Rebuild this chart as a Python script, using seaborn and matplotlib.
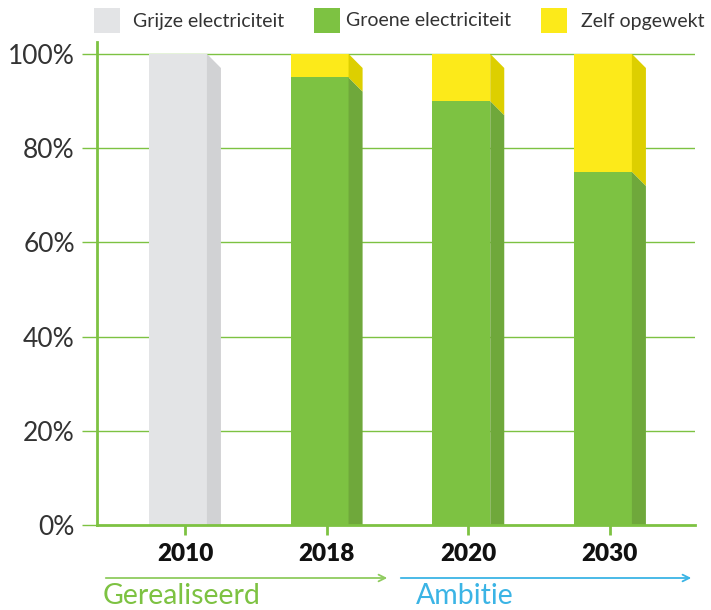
import matplotlib
matplotlib.use("Agg")
import matplotlib.pyplot as plt
import seaborn as sns
from matplotlib.patches import Rectangle, Polygon, FancyArrowPatch

years = ["2010", "2018", "2020", "2030"]
grijs = [100, 0, 0, 0]
groen = [0, 95, 90, 75]
zelf = [0, 5, 10, 25]
series_names = ["Grijze electriciteit", "Groene electriciteit", "Zelf opgewekt"]

front_cols = ["#E3E4E6", "#7DC242", "#FCEA1A"]
side_cols = ["#D1D2D4", "#6FA83B", "#DDCF00"]
line_green = "#7DC242"
blue = "#3BB4E5"

sns.set_theme(style="white")
plt.rcParams["font.family"] = ["Lato", "DejaVu Sans"]

W, H = 711, 610
fig = plt.figure(figsize=(W / 100, H / 100), dpi=100)
ax = fig.add_axes([0.1364, 0.139, 0.841, 0.792])

bar_w = 0.409
depth = 0.099
drop = 3.0

for y in [20, 40, 60, 80, 100]:
    ax.axhline(y, color=line_green, lw=1, zorder=0)

# stacked segments (bottom, top) per series
series = [grijs, groen, zelf]
segments = []
for j in range(len(years)):
    b = 0
    row = []
    for k, vals in enumerate(series):
        v = vals[j]
        if v > 0:
            row.append((k, b, b + v))
        b += v
    segments.append(row)

# front faces via seaborn: cumulative heights, tallest first
cum = [[g, g + n, g + n + z] for g, n, z in zip(grijs, groen, zelf)]
for k in [2, 1, 0]:
    heights = [c[k] if series[k][j] > 0 else 0 for j, c in enumerate(cum)]
    n_before = len(ax.patches)
    sns.barplot(x=years, y=heights, color=front_cols[k], width=bar_w,
                saturation=1, ax=ax, zorder=2)
    for p in ax.patches[n_before:]:
        p.set_x(p.get_x() - depth / 2)
        p.set_linewidth(0)

# side faces
for j, row in enumerate(segments):
    xr = j - depth / 2 + bar_w / 2
    for k, b, t in row:
        pts = [(xr, t), (xr + depth, t - drop), (xr + depth, max(b - drop, 0)), (xr, b)]
        ax.add_patch(Polygon(pts, closed=True, facecolor=side_cols[k], lw=0, zorder=2))

ax.set_xlim(-0.621, 3.6)
ax.set_ylim(0, 102.5)
ax.set_yticks([0, 20, 40, 60, 80, 100])
ax.set_yticklabels([f"{v}%" for v in [0, 20, 40, 60, 80, 100]],
                   fontsize=19, color="#333333")
ax.set_xticks(range(len(years)))
ax.set_xticklabels(years, fontsize=17.5, fontweight="heavy", color="#111111")
ax.tick_params(axis="y", direction="out", length=11, width=1, color=line_green, pad=5, left=True)
ax.tick_params(axis="x", direction="out", length=7, width=2, color=line_green, pad=6, bottom=True)
ax.set_xlabel("")
ax.set_ylabel("")

for s in ["top", "right"]:
    ax.spines[s].set_visible(False)
for s in ["left", "bottom"]:
    ax.spines[s].set_color(line_green)
    ax.spines[s].set_linewidth(2)

# legend row at the top
legend_box_x = [94, 314, 541]
legend_text_x = [133, 346, 581]
for bx, tx, c, name in zip(legend_box_x, legend_text_x, front_cols, series_names):
    fig.patches.append(Rectangle((bx / W, 1 - 33 / H), 26 / W, 25 / H,
                                 transform=fig.transFigure, facecolor=c, lw=0))
    fig.text(tx / W, 1 - 21 / H, name, fontsize=14, color="#333333",
             ha="left", va="center")

# timeline arrows and labels
fig.patches.append(FancyArrowPatch(
    (103 / W, 1 - 578 / H), (390 / W, 1 - 578 / H), transform=fig.transFigure,
    arrowstyle="->", mutation_scale=12, color="#8FCB5F", lw=1.3))
fig.patches.append(FancyArrowPatch(
    (398 / W, 1 - 578 / H), (694 / W, 1 - 578 / H), transform=fig.transFigure,
    arrowstyle="->", mutation_scale=12, color=blue, lw=1.3))
fig.text(103 / W, 1 - 609 / H, "Gerealiseerd", color=line_green, fontsize=20.5,
         ha="left", va="bottom")
fig.text(416 / W, 1 - 609 / H, "Ambitie", color=blue, fontsize=20.5,
         ha="left", va="bottom")

fig.savefig("out.png", dpi=100)
